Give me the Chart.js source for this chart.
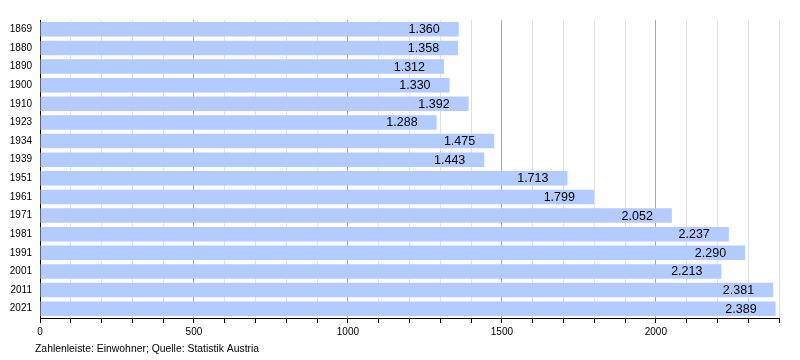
<!DOCTYPE html>
<html>
<head>
<meta charset="utf-8">
<script src="https://cdn.jsdelivr.net/npm/chart.js@4.4.1/dist/chart.umd.min.js"></script>
<style>
html,body{margin:0;padding:0;background:#fff;}
#wrap{width:800px;height:360px;position:relative;}
</style>
</head>
<body>
<div id="wrap"><canvas id="c" width="800" height="360"></canvas></div>
<script>
const years = ["1869","1880","1890","1900","1910","1923","1934","1939","1951","1961","1971","1981","1991","2001","2011","2021"];
const population = [1360,1358,1312,1330,1392,1288,1475,1443,1713,1799,2052,2237,2290,2213,2381,2389];
const xMax = 2400;
const footerText = "Zahlenleiste: Einwohner; Quelle: Statistik Austria";

const FONT = "'Liberation Sans', Arial, sans-serif";

function fmt(v){
  return String(v).replace(/\B(?=(\d{3})+(?!\d))/g, ".");
}

const labelPlugin = {
  id: 'valueLabels',
  afterDatasetsDraw(chart){
    const ctx = chart.ctx;
    const meta = chart.getDatasetMeta(0);
    ctx.save();
    ctx.font = "12.5px " + FONT;
    ctx.fillStyle = "#000";
    ctx.textAlign = "right";
    ctx.textBaseline = "middle";
    meta.data.forEach((bar, i) => {
      ctx.fillText(fmt(population[i]), bar.x - 19, bar.y + 0.5);
    });
    ctx.restore();
  },
  afterDraw(chart){
    const ctx = chart.ctx;
    ctx.save();
    ctx.font = "10.4px " + FONT;
    ctx.fillStyle = "#000";
    ctx.textAlign = "left";
    ctx.textBaseline = "middle";
    ctx.fillText(footerText, 35, 349);
    ctx.restore();
  }
};

new Chart(document.getElementById('c'), {
  type: 'bar',
  data: {
    labels: years,
    datasets: [{
      data: population,
      backgroundColor: '#b3cbff',
      borderWidth: 0,
      barPercentage: 0.78,
      categoryPercentage: 1.0
    }]
  },
  options: {
    indexAxis: 'y',
    responsive: false,
    animation: false,
    layout: { padding: { top: 20, right: 21, bottom: 0, left: 0 } },
    plugins: { legend: { display: false }, tooltip: { enabled: false } },
    scales: {
      x: {
        min: 0, max: xMax,
        afterFit(scale){ scale.height = 42; },
        ticks: {
          stepSize: 100,
          autoSkip: false,
          maxRotation: 0,
          color: '#000',
          padding: 3,
          font: { family: FONT, size: 10 },
          callback(v){ return v % 500 === 0 ? String(v) : ''; }
        },
        grid: {
          color(ctx){ const v = ctx.tick ? ctx.tick.value : 0; return v % 500 === 0 ? '#a8a8a8' : '#e0e0e0'; },
          lineWidth: 1,
          tickColor: '#000',
          tickLength: 5,
          drawTicks: true
        },
        border: { display: true, color: '#000', width: 1 }
      },
      y: {
        afterFit(scale){ scale.width = 40; },
        ticks: {
          color: '#000',
          padding: 8,
          font: { family: FONT, size: 10 }
        },
        grid: { display: false, drawTicks: false },
        border: { display: true, color: '#000', width: 1 }
      }
    }
  },
  plugins: [labelPlugin]
});
</script>
</body>
</html>
